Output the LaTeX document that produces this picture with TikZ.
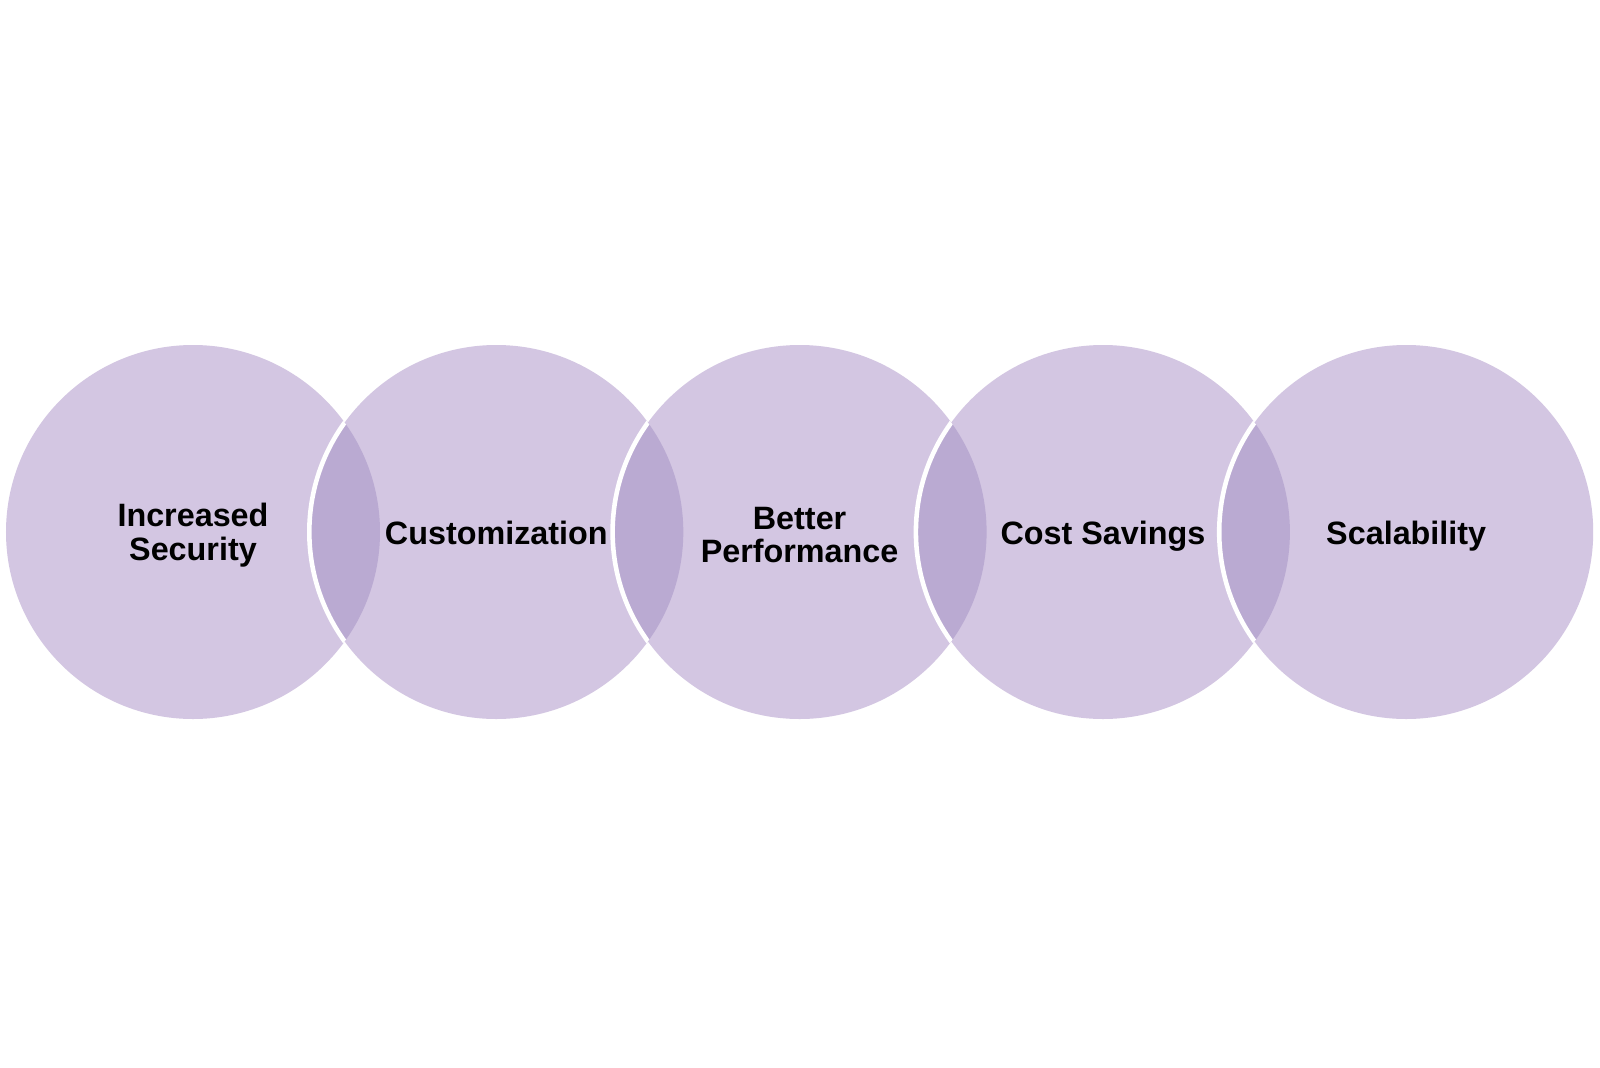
\documentclass[tikz,border=0pt]{standalone}
\usepackage{fontspec}
\setmainfont{Liberation Sans}
\definecolor{lightlav}{RGB}{211,198,226}
\definecolor{darklav}{RGB}{186,170,210}
\begin{document}
\begin{tikzpicture}[
  label/.style={inner sep=0pt,
    font=\fontsize{9.2}{9.6}\selectfont\bfseries, align=center, text=black},
  oneline/.style={label, text height=0.72em, text depth=0.2em}
]
\useasboundingbox[fill=white] (0,0) rectangle (16,10.67);
\def\R{1.87}
\foreach \i/\x in {1/1.93,2/4.963,3/7.996,4/11.029,5/14.062}{
  \coordinate (c\i) at (\x,5.35);
  \fill[lightlav] (c\i) circle (\R);
}
\foreach \i/\j in {1/2,2/3,3/4,4/5}{
  \begin{scope}
    \clip (c\i) circle (\R);
    \fill[darklav] (c\j) circle (\R);
    \draw[white, line width=1.3pt] (c\j) circle (\R);
  \end{scope}
}
\node[label] (n1) at ([yshift=-0.03cm]c1) {Increased\\Security};
\node[oneline] (n2) at ([yshift=-0.03cm]c2) {Customization};
\node[label] (n3) at ([yshift=-0.03cm]c3) {Better\\Performance};
\node[oneline] (n4) at ([yshift=-0.03cm]c4) {Cost Savings};
\node[oneline] (n5) at ([yshift=-0.03cm]c5) {Scalability};
\end{tikzpicture}
\end{document}
